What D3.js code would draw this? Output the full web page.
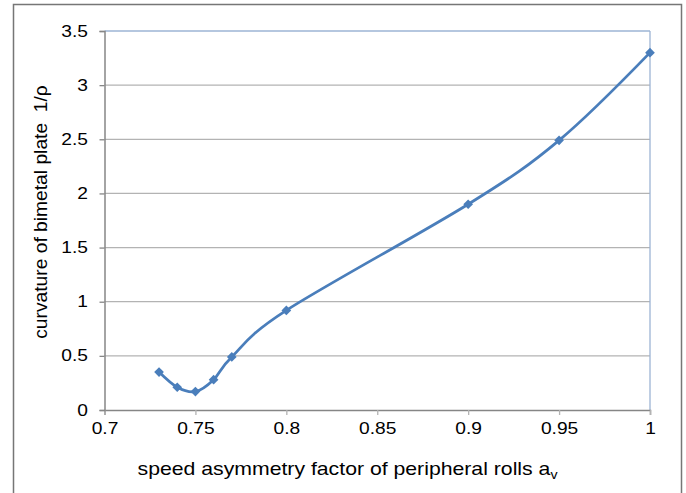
<!DOCTYPE html>
<html>
<head>
<meta charset="utf-8">
<script src="https://cdn.jsdelivr.net/npm/d3@7"></script>
<style>
  body { margin: 0; background: #fff; }
  svg text { font-family: "Liberation Sans", Arial, sans-serif; fill: #000; }
</style>
</head>
<body>
<svg id="chart" width="686" height="493"></svg>
<script>
'use strict';

// speed asymmetry factor a_v
var speedFactor = [0.73, 0.74, 0.75, 0.76, 0.77, 0.8, 0.9, 0.95, 1.0];
// curvature 1/rho
var curvature = [0.35, 0.21, 0.17, 0.28, 0.49, 0.92, 1.90, 2.49, 3.30];

var xTicks = [0.7, 0.75, 0.8, 0.85, 0.9, 0.95, 1];
var yTicks = [0, 0.5, 1, 1.5, 2, 2.5, 3, 3.5];

// the original font runs wider than Liberation Sans, so text is stretched along its line
var stretch = 1.2;

var svg = d3.select('#chart');

var margin = {top: 31, left: 104.5},
    width = 650 - margin.left,
    height = 410 - margin.top;

// outer chart frame
svg.append('rect')
    .attr('x', 13.5).attr('y', 4.5)
    .attr('width', 668).attr('height', 500)
    .attr('fill', 'none')
    .attr('stroke', '#767676')
    .attr('stroke-width', 1.5);

var x = d3.scaleLinear().domain([0.7, 1]).range([0, width]);
var y = d3.scaleLinear().domain([0, 3.5]).range([height, 0]);

var chart = svg.append('g')
    .attr('transform', 'translate(' + margin.left + ',' + margin.top + ')');

// Gridlines
chart.selectAll('.grid')
    .data(yTicks.slice(1))
    .enter().append('line')
    .attr('x1', 0).attr('x2', width)
    .attr('y1', function(d) { return y(d); })
    .attr('y2', function(d) { return y(d); })
    .attr('stroke', function(d) { return d === 3.5 ? '#9db4d4' : '#b3b3b3'; })
    .attr('stroke-width', 1.3);

// right border of plot area
chart.append('line')
    .attr('x1', width).attr('x2', width)
    .attr('y1', 0).attr('y2', height)
    .attr('stroke', '#9db4d4')
    .attr('stroke-width', 1.3);

// X Axis
var xAxis = chart.append('g')
    .attr('transform', 'translate(0,' + height + ')')
    .call(d3.axisBottom(x).tickValues(xTicks).tickSize(5).tickPadding(8)
        .tickFormat(function(d) { return String(d); }));
xAxis.select('.domain').attr('stroke', '#868686').attr('stroke-width', 1.5);
xAxis.selectAll('.tick line').attr('stroke', '#b3b3b3').attr('stroke-width', 1.3);
xAxis.selectAll('.tick text')
    .style('font-size', '16px')
    .style('font-family', '"Liberation Sans", Arial, sans-serif')
    .attr('fill', '#000')
    .attr('transform', 'scale(' + stretch + ',1)');

// Y Axis
var yAxis = chart.append('g')
    .call(d3.axisLeft(y).tickValues(yTicks).tickSize(5)
        .tickFormat(function(d) { return String(d); }));
yAxis.select('.domain').attr('stroke', '#868686').attr('stroke-width', 1.5);
yAxis.selectAll('.tick line').attr('stroke', '#868686').attr('stroke-width', 1.3);
yAxis.selectAll('.tick text')
    .style('font-size', '16px')
    .style('font-family', '"Liberation Sans", Arial, sans-serif')
    .attr('fill', '#000')
    .attr('x', -16.5 / stretch)
    .attr('transform', 'scale(' + stretch + ',1)');

// Line
var points = speedFactor.map(function(d, i) { return {x: d, y: curvature[i]}; });

var line = d3.line()
    .x(function(d) { return x(d.x); })
    .y(function(d) { return y(d.y); })
    .curve(d3.curveCardinal.tension(0));

chart.append('path')
    .datum(points)
    .attr('d', line)
    .attr('fill', 'none')
    .attr('stroke', '#4a7ebb')
    .attr('stroke-width', 2.75);

// Markers
chart.selectAll('.marker')
    .data(points)
    .enter().append('path')
    .attr('class', 'marker')
    .attr('d', d3.symbol().type(d3.symbolDiamond2).size(60))
    .attr('transform', function(d) { return 'translate(' + x(d.x) + ',' + y(d.y) + ')'; })
    .attr('fill', '#4a7ebb');

// Axis titles
var xTitle = svg.append('text')
    .attr('transform', 'translate(347.5,475) scale(1.18,1)')
    .attr('text-anchor', 'middle')
    .style('font-size', '18px');
xTitle.append('tspan').text('speed asymmetry factor of peripheral rolls a');
xTitle.append('tspan').attr('dy', 4).style('font-size', '12px').text('v');

svg.append('text')
    .attr('transform', 'translate(47,212) rotate(-90) scale(1.1,1)')
    .attr('text-anchor', 'middle')
    .style('font-size', '17.5px')
    .attr('xml:space', 'preserve')
    .text('curvature of bimetal plate  1/\u03c1');
</script>
</body>
</html>
